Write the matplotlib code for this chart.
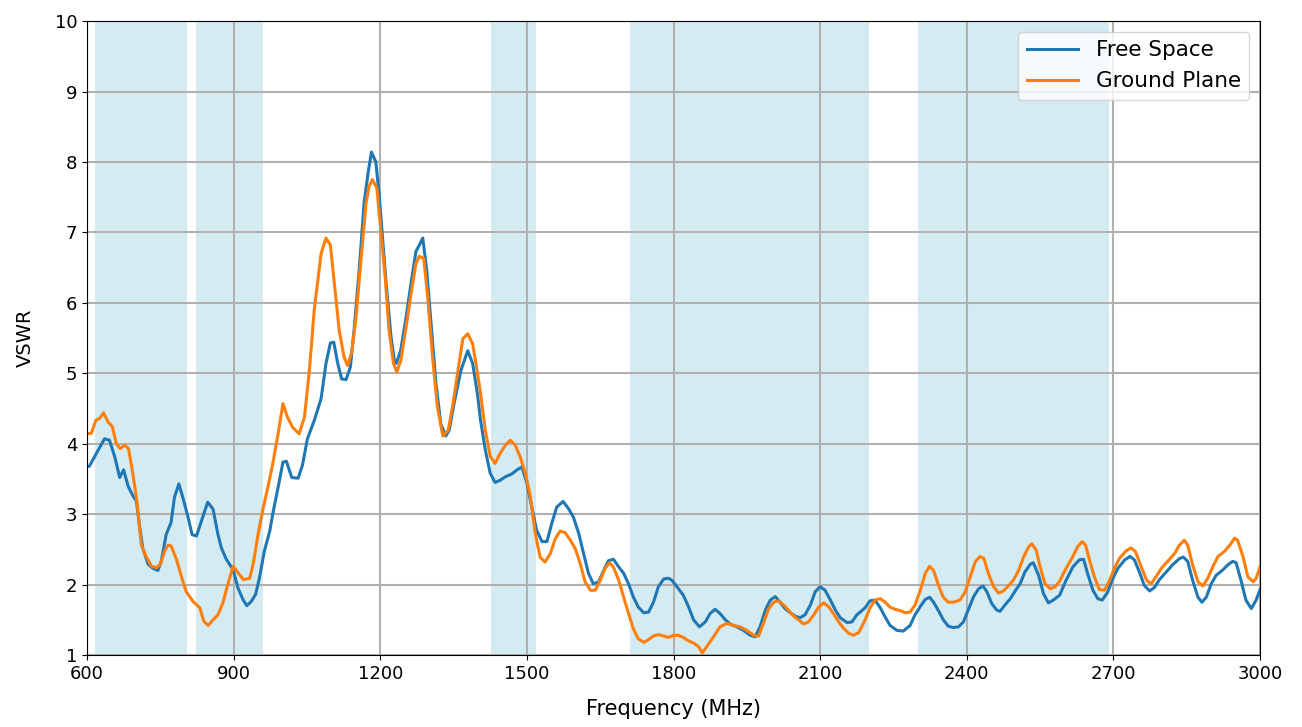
import matplotlib
matplotlib.use('Agg')
import matplotlib.pyplot as plt

# frequencies (MHz) and VSWR
free_freq = [600, 605, 619, 636, 646, 657, 667, 675, 684, 694, 701, 708, 714, 725, 735, 745, 752, 762,
             772, 779, 788, 796, 807, 815, 824, 834, 847, 858, 868, 875, 885, 899, 909, 919, 927, 936,
             945, 953, 963, 974, 980, 991, 1001, 1008, 1019, 1032, 1041, 1051, 1065, 1079, 1089, 1098,
             1105, 1113, 1121, 1130, 1139, 1147, 1157, 1167, 1175, 1182, 1191, 1198, 1205, 1212, 1222,
             1229, 1233, 1242, 1253, 1263, 1273, 1280, 1287, 1295, 1304, 1314, 1324, 1334, 1341, 1351,
             1365, 1379, 1389, 1399, 1405, 1415, 1425, 1435, 1445, 1456, 1469, 1480, 1490, 1500, 1510,
             1520, 1531, 1541, 1551, 1561, 1574, 1585, 1595, 1606, 1616, 1626, 1636, 1647, 1657, 1667,
             1677, 1688, 1698, 1708, 1718, 1728, 1739, 1749, 1759, 1769, 1780, 1790, 1797, 1810, 1820,
             1831, 1841, 1853, 1865, 1875, 1885, 1895, 1906, 1916, 1930, 1943, 1957, 1967, 1977, 1988,
             1998, 2008, 2018, 2028, 2039, 2049, 2059, 2069, 2080, 2090, 2100, 2110, 2121, 2131, 2141,
             2155, 2165, 2175, 2192, 2202, 2212, 2223, 2233, 2243, 2257, 2270, 2284, 2294, 2305, 2315,
             2324, 2332, 2342, 2352, 2362, 2373, 2383, 2393, 2403, 2414, 2424, 2433, 2441, 2451, 2461,
             2468, 2478, 2489, 2499, 2509, 2519, 2530, 2536, 2547, 2557, 2567, 2577, 2590, 2603, 2617,
             2630, 2639, 2647, 2658, 2668, 2677, 2688, 2699, 2709, 2723, 2734, 2743, 2753, 2763, 2774,
             2784, 2794, 2808, 2821, 2835, 2843, 2852, 2862, 2873, 2881, 2890, 2900, 2910, 2924, 2934,
             2944, 2951, 2961, 2971, 2982, 2992, 3000]
free_vswr = [3.68, 3.68, 3.86, 4.07, 4.05, 3.81, 3.52, 3.63, 3.40, 3.26, 3.19, 2.81, 2.52, 2.29, 2.23,
             2.20, 2.33, 2.71, 2.88, 3.24, 3.43, 3.24, 2.95, 2.71, 2.69, 2.90, 3.17, 3.07, 2.71, 2.52,
             2.36, 2.21, 1.95, 1.79, 1.70, 1.76, 1.86, 2.10, 2.48, 2.76, 3.00, 3.38, 3.74, 3.75, 3.52,
             3.51, 3.70, 4.07, 4.33, 4.64, 5.14, 5.43, 5.44, 5.14, 4.92, 4.91, 5.09, 5.66, 6.47, 7.42,
             7.84, 8.14, 8.00, 7.51, 6.89, 6.28, 5.52, 5.18, 5.14, 5.33, 5.80, 6.28, 6.73, 6.82, 6.92,
             6.47, 5.71, 4.85, 4.28, 4.11, 4.19, 4.57, 5.04, 5.32, 5.14, 4.70, 4.34, 3.91, 3.58, 3.45,
             3.48, 3.53, 3.57, 3.63, 3.67, 3.44, 3.10, 2.77, 2.61, 2.61, 2.87, 3.10, 3.18, 3.08, 2.96,
             2.73, 2.44, 2.16, 2.01, 2.04, 2.20, 2.34, 2.36, 2.25, 2.16, 2.01, 1.82, 1.68, 1.60, 1.61,
             1.75, 1.97, 2.08, 2.09, 2.06, 1.94, 1.85, 1.68, 1.50, 1.40, 1.47, 1.59, 1.65, 1.59, 1.50,
             1.44, 1.40, 1.35, 1.28, 1.26, 1.40, 1.64, 1.78, 1.83, 1.75, 1.66, 1.60, 1.55, 1.53, 1.57,
             1.71, 1.90, 1.97, 1.92, 1.78, 1.64, 1.53, 1.46, 1.47, 1.57, 1.67, 1.77, 1.78, 1.67, 1.54,
             1.42, 1.35, 1.34, 1.42, 1.57, 1.69, 1.79, 1.82, 1.75, 1.63, 1.50, 1.41, 1.39, 1.40, 1.47,
             1.64, 1.83, 1.94, 1.98, 1.90, 1.73, 1.64, 1.62, 1.71, 1.80, 1.91, 2.01, 2.18, 2.29, 2.31,
             2.13, 1.87, 1.74, 1.78, 1.85, 2.06, 2.25, 2.35, 2.36, 2.16, 1.92, 1.80, 1.78, 1.89, 2.09,
             2.23, 2.35, 2.40, 2.35, 2.18, 1.99, 1.91, 1.96, 2.07, 2.18, 2.28, 2.37, 2.39, 2.33, 2.06,
             1.82, 1.75, 1.82, 2.01, 2.13, 2.21, 2.28, 2.33, 2.31, 2.06, 1.78, 1.66, 1.78, 1.93]

ground_freq = [600, 609, 618, 626, 634, 643, 652, 660, 668, 677, 685, 694, 702, 711, 721, 732, 742, 750,
               759, 766, 772, 783, 793, 803, 817, 831, 839, 848, 858, 868, 878, 888, 899, 909, 920, 933,
               940, 950, 960, 970, 980, 991, 1001, 1010, 1021, 1034, 1045, 1055, 1065, 1079, 1089, 1098,
               1106, 1116, 1126, 1133, 1141, 1150, 1160, 1171, 1177, 1184, 1193, 1201, 1210, 1218, 1227,
               1234, 1242, 1253, 1263, 1273, 1280, 1289, 1297, 1307, 1317, 1328, 1339, 1349, 1359, 1369,
               1379, 1389, 1399, 1405, 1415, 1425, 1435, 1445, 1456, 1466, 1476, 1486, 1497, 1507, 1517,
               1527, 1537, 1548, 1558, 1568, 1578, 1589, 1599, 1609, 1619, 1630, 1640, 1650, 1660, 1669,
               1677, 1688, 1698, 1708, 1718, 1728, 1739, 1749, 1759, 1769, 1780, 1790, 1800, 1810, 1820,
               1831, 1841, 1851, 1859, 1868, 1882, 1895, 1909, 1923, 1936, 1950, 1964, 1974, 1984, 1994,
               2005, 2015, 2025, 2035, 2046, 2056, 2066, 2076, 2087, 2097, 2107, 2117, 2127, 2138, 2148,
               2158, 2168, 2179, 2192, 2202, 2212, 2223, 2233, 2243, 2253, 2264, 2274, 2284, 2294, 2305,
               2315, 2324, 2332, 2342, 2352, 2362, 2373, 2386, 2397, 2407, 2417, 2427, 2435, 2444, 2455,
               2465, 2475, 2485, 2495, 2506, 2516, 2526, 2533, 2542, 2550, 2560, 2571, 2581, 2590, 2603,
               2617, 2627, 2636, 2643, 2651, 2661, 2671, 2682, 2692, 2702, 2712, 2726, 2736, 2745, 2757,
               2768, 2777, 2787, 2798, 2811, 2825, 2835, 2845, 2852, 2862, 2873, 2883, 2893, 2903, 2914,
               2927, 2938, 2948, 2954, 2965, 2975, 2986, 2992, 3000]
ground_vswr = [4.14, 4.15, 4.33, 4.36, 4.44, 4.31, 4.24, 4.00, 3.93, 3.98, 3.93, 3.57, 3.19, 2.57, 2.40,
               2.26, 2.24, 2.29, 2.48, 2.56, 2.55, 2.36, 2.12, 1.90, 1.76, 1.67, 1.48, 1.42, 1.50, 1.57,
               1.74, 2.00, 2.26, 2.17, 2.07, 2.09, 2.29, 2.71, 3.07, 3.38, 3.71, 4.14, 4.57, 4.38, 4.23,
               4.14, 4.38, 5.04, 5.90, 6.70, 6.92, 6.82, 6.28, 5.61, 5.23, 5.11, 5.28, 5.76, 6.56, 7.42,
               7.65, 7.75, 7.63, 7.04, 6.37, 5.61, 5.14, 5.02, 5.18, 5.66, 6.13, 6.56, 6.66, 6.63, 6.09,
               5.23, 4.52, 4.11, 4.19, 4.57, 5.04, 5.49, 5.56, 5.42, 5.00, 4.72, 4.19, 3.82, 3.72, 3.86,
               3.98, 4.05, 3.98, 3.82, 3.58, 3.25, 2.73, 2.39, 2.32, 2.44, 2.65, 2.76, 2.74, 2.63, 2.51,
               2.30, 2.04, 1.92, 1.92, 2.06, 2.23, 2.31, 2.25, 2.06, 1.82, 1.59, 1.37, 1.23, 1.18, 1.22,
               1.27, 1.29, 1.27, 1.25, 1.28, 1.28, 1.25, 1.20, 1.17, 1.12, 1.03, 1.12, 1.26, 1.40, 1.45,
               1.42, 1.40, 1.35, 1.28, 1.27, 1.45, 1.65, 1.75, 1.77, 1.71, 1.64, 1.55, 1.50, 1.44, 1.47,
               1.57, 1.68, 1.74, 1.69, 1.59, 1.47, 1.38, 1.31, 1.28, 1.32, 1.50, 1.67, 1.78, 1.80, 1.75,
               1.68, 1.65, 1.63, 1.60, 1.61, 1.71, 1.92, 2.16, 2.26, 2.20, 1.99, 1.82, 1.75, 1.75, 1.78,
               1.90, 2.11, 2.32, 2.40, 2.37, 2.16, 1.97, 1.88, 1.91, 1.98, 2.06, 2.20, 2.39, 2.53, 2.58,
               2.49, 2.25, 2.01, 1.94, 1.97, 2.05, 2.23, 2.40, 2.54, 2.61, 2.56, 2.35, 2.11, 1.93, 1.92,
               2.06, 2.23, 2.37, 2.48, 2.52, 2.47, 2.25, 2.06, 2.01, 2.11, 2.23, 2.33, 2.44, 2.56, 2.63,
               2.56, 2.28, 2.04, 1.98, 2.09, 2.25, 2.40, 2.47, 2.56, 2.66, 2.63, 2.40, 2.11, 2.04, 2.09,
               2.25]

# shaded frequency bands (MHz)
band_start = [617, 824, 1427, 1710, 2300]
band_end = [805, 960, 1518, 2200, 2690]

fig = plt.figure(figsize=(13.02, 7.27), dpi=100)
ax = fig.add_axes([0.0668, 0.099, 0.901, 0.872])

for s, e in zip(band_start, band_end):
    ax.axvspan(s, e, color='lightblue', alpha=0.5, lw=0, zorder=0)

ax.plot(free_freq, free_vswr, label='Free Space', c='tab:blue', lw=2.2)
ax.plot(ground_freq, ground_vswr, label='Ground Plane', c='tab:orange', lw=2.2)

ax.set_xlim(600, 3000)
ax.set_ylim(1, 10)
ax.set_xticks(range(600, 3001, 300))
ax.set_yticks(range(1, 11))
ax.tick_params(labelsize=13)
ax.set_xlabel('Frequency (MHz)', fontsize=15, labelpad=12)
ax.set_ylabel('VSWR', fontsize=14, labelpad=14)
ax.grid(True, color='#b0b0b0', lw=1.5)
ax.set_axisbelow(True)
ax.legend(loc='upper right', fontsize=15.5, handlelength=2.4)

fig.savefig('out.png', dpi=100)
